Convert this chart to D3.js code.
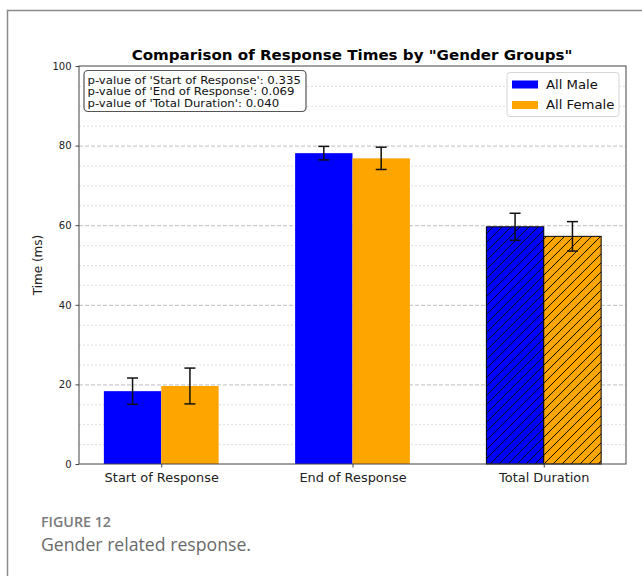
<!DOCTYPE html>
<html>
<head>
<meta charset="utf-8">
<script src="https://cdn.jsdelivr.net/npm/d3@7"></script>
<style>
  html, body { margin: 0; padding: 0; background: #fff; }
  svg { display: block; }
</style>
</head>
<body>
<svg id="chart" width="642" height="576"></svg>
<script>
// Response-time data by gender group
const categories = ["Start of Response", "End of Response", "Total Duration"];
const seriesNames = ["All Male", "All Female"];
const maleMeans = [18.3, 78.1, 59.6];
const maleErrors = [3.3, 1.7, 3.4];
const femaleMeans = [19.6, 76.8, 57.2];
const femaleErrors = [4.5, 2.8, 3.7];
const pValues = [0.335, 0.069, 0.040];
const yTicks = [0, 20, 40, 60, 80, 100];
const seriesColors = ["#0000ff", "#ffa500"];

const svg = d3.select("#chart");
const dejavu = "'DejaVu Sans', Verdana, sans-serif";
const captionFont = "'Open Sans', 'Noto Sans', sans-serif";

// stretch a text element horizontally by factor k
function widen(sel, k) {
  sel.each(function () {
    const w = this.getComputedTextLength();
    d3.select(this).attr("textLength", w * k).attr("lengthAdjust", "spacingAndGlyphs");
  });
}

// outer figure frame
svg.append("path")
  .attr("d", "M7.5,576 L7.5,10.5 L642,10.5")
  .attr("fill", "none").attr("stroke", "#8a8a8a").attr("stroke-width", 1.5);

const plot = { left: 79, right: 626, top: 66, bottom: 464 };
const barW = 0.3;

const x = d3.scaleLinear().domain([-0.43, 2.43]).range([plot.left, plot.right]);
const y = d3.scaleLinear().domain([0, 100]).range([plot.bottom, plot.top]);

const defs = svg.append("defs");
seriesColors.forEach((c, i) => {
  const p = defs.append("pattern")
    .attr("id", "hatch" + i)
    .attr("patternUnits", "userSpaceOnUse")
    .attr("width", 9).attr("height", 9);
  p.append("rect").attr("width", 9).attr("height", 9).attr("fill", c);
  p.append("path")
    .attr("d", "M-2,2 L2,-2 M0,9 L9,0 M7,11 L11,7")
    .attr("stroke", "#000").attr("stroke-width", 0.9);
});

// grid: minor dotted every 5, major dashed every 20
const minor = d3.range(5, 100, 5).filter(v => v % 20 !== 0);
svg.append("g").selectAll("line").data(minor).join("line")
  .attr("x1", plot.left).attr("x2", plot.right)
  .attr("y1", d => y(d) + 0.5).attr("y2", d => y(d) + 0.5)
  .attr("stroke", "#d4d4d4").attr("stroke-width", 0.8)
  .attr("stroke-dasharray", "2,2");
svg.append("g").selectAll("line").data(yTicks.filter(v => v > 0 && v < 100)).join("line")
  .attr("x1", plot.left).attr("x2", plot.right)
  .attr("y1", d => y(d) + 0.5).attr("y2", d => y(d) + 0.5)
  .attr("stroke", "#b8b8b8").attr("stroke-width", 0.9)
  .attr("stroke-dasharray", "4,2");

// bars
const series = [
  { means: maleMeans, errs: maleErrors, offset: -barW / 2 },
  { means: femaleMeans, errs: femaleErrors, offset: barW / 2 }
];
series.forEach((s, si) => {
  const g = svg.append("g");
  categories.forEach((cat, ci) => {
    const hatched = ci === 2;
    g.append("rect")
      .attr("x", x(ci + s.offset - barW / 2))
      .attr("width", x(barW) - x(0))
      .attr("y", y(s.means[ci]))
      .attr("height", y(0) - y(s.means[ci]))
      .attr("fill", hatched ? `url(#hatch${si})` : seriesColors[si])
      .attr("stroke", hatched ? "#000" : "none")
      .attr("stroke-width", 1);
  });
});

// error bars
series.forEach((s) => {
  const g = svg.append("g").attr("stroke", "#111").attr("stroke-width", 1.5);
  categories.forEach((cat, ci) => {
    const cx = x(ci + s.offset);
    const lo = y(s.means[ci] - s.errs[ci]);
    const hi = y(s.means[ci] + s.errs[ci]);
    g.append("line").attr("x1", cx).attr("x2", cx).attr("y1", lo).attr("y2", hi);
    g.append("line").attr("x1", cx - 5.5).attr("x2", cx + 5.5).attr("y1", lo).attr("y2", lo);
    g.append("line").attr("x1", cx - 5.5).attr("x2", cx + 5.5).attr("y1", hi).attr("y2", hi);
  });
});

// frame of the axes
svg.append("rect")
  .attr("x", plot.left).attr("y", plot.top)
  .attr("width", plot.right - plot.left).attr("height", plot.bottom - plot.top)
  .attr("fill", "none").attr("stroke", "#444").attr("stroke-width", 1);

// y axis
const yAxis = d3.axisLeft(y).tickValues(yTicks).tickSize(3.5).tickPadding(4);
const yg = svg.append("g").attr("transform", `translate(${plot.left},0)`).call(yAxis);
yg.select(".domain").remove();
yg.selectAll("line").attr("stroke", "#444");
yg.selectAll("text").attr("font-family", dejavu).attr("font-size", 10).attr("fill", "#222");

// x axis
const xAxis = d3.axisBottom(x).tickValues([0, 1, 2]).tickFormat(i => categories[i]).tickSize(3.5).tickPadding(6);
const xg = svg.append("g").attr("transform", `translate(0,${plot.bottom})`).call(xAxis);
xg.select(".domain").remove();
xg.selectAll("line").attr("stroke", "#444");
xg.selectAll("text").attr("font-family", dejavu).attr("font-size", 12.2).attr("fill", "#222")
  .call(widen, 1.06);

// y label
svg.append("text")
  .attr("transform", `translate(42,${(plot.top + plot.bottom) / 2}) rotate(-90)`)
  .attr("text-anchor", "middle")
  .attr("font-family", dejavu).attr("font-size", 12).attr("fill", "#222")
  .text("Time (ms)");

// title
svg.append("text")
  .attr("x", 352).attr("y", 60)
  .attr("text-anchor", "middle")
  .attr("font-family", dejavu).attr("font-size", 14.8).attr("font-weight", "bold")
  .attr("fill", "#000")
  .text('Comparison of Response Times by "Gender Groups"')
  .call(widen, 1.02);

// p-value annotation box
const pLabels = categories.map((c, i) => `p-value of '${c}': ${pValues[i].toFixed(3)}`);
svg.append("rect")
  .attr("x", 84).attr("y", 70.5).attr("width", 222).attr("height", 41)
  .attr("rx", 4).attr("fill", "#fff").attr("stroke", "#555").attr("stroke-width", 1.2);
svg.append("g").selectAll("text").data(pLabels).join("text")
  .attr("x", 87.5).attr("y", (d, i) => 83.5 + i * 11.8)
  .attr("font-family", dejavu).attr("font-size", 10.8).attr("fill", "#111")
  .text(d => d)
  .call(widen, 1.085);

// legend
const lg = svg.append("g");
lg.append("rect")
  .attr("x", 507).attr("y", 72.5).attr("width", 112).attr("height", 44)
  .attr("rx", 3).attr("fill", "#fff").attr("fill-opacity", 0.85)
  .attr("stroke", "#d6d6d6").attr("stroke-width", 1);
seriesNames.forEach((name, i) => {
  const yy = 84 + i * 20.5;
  lg.append("rect").attr("x", 512).attr("y", yy - 3.5).attr("width", 26).attr("height", 8)
    .attr("fill", seriesColors[i]);
  lg.append("text").attr("x", 546).attr("y", yy + 4.5)
    .attr("font-family", dejavu).attr("font-size", 12.6).attr("fill", "#111")
    .text(name)
    .call(widen, 1.05);
});

// caption
svg.append("text")
  .attr("x", 41).attr("y", 527)
  .attr("font-family", captionFont).attr("font-size", 13.5)
  .attr("font-weight", 600).attr("fill", "#7a7a7a")
  .text("FIGURE 12")
  .attr("textLength", 70).attr("lengthAdjust", "spacingAndGlyphs");
svg.append("text")
  .attr("x", 41).attr("y", 551)
  .attr("font-family", captionFont).attr("font-size", 17.5)
  .attr("fill", "#6a6a6a")
  .text("Gender related response.")
  .attr("textLength", 210).attr("lengthAdjust", "spacingAndGlyphs");
</script>
</body>
</html>
